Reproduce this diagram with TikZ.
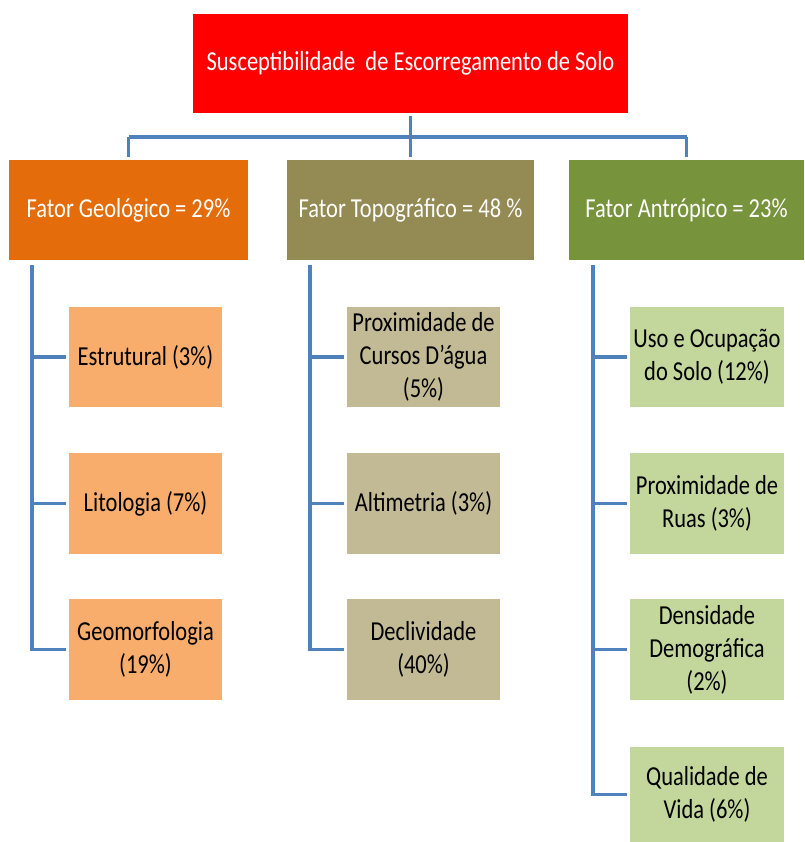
\documentclass[tikz,border=0pt]{standalone}
\usepackage{fontspec}
\setmainfont{Carlito}[FakeStretch=0.82]
\usetikzlibrary{positioning}

\definecolor{topred}{HTML}{FF0000}
\definecolor{geocol}{HTML}{E46C0A}
\definecolor{topocol}{HTML}{948A54}
\definecolor{antrcol}{HTML}{77933C}
\definecolor{geolight}{HTML}{F9AD6D}
\definecolor{topolight}{HTML}{C2BA94}
\definecolor{antrlight}{HTML}{C3D69B}
\definecolor{linkcol}{HTML}{4F81BD}

\tikzset{
  box/.style={inner sep=0pt, align=center, font=\fontsize{19.5}{23.5}\selectfont},
  topbox/.style={box, fill=topred, text=white, minimum width=10.875cm, minimum height=2.475cm},
  fator/.style={box, text=white, minimum height=2.5cm},
  item/.style={box, text=black, minimum width=3.825cm, minimum height=2.5cm},
  conn/.style={draw=linkcol, line width=2.5pt}
}

\begin{document}
\begin{tikzpicture}[x=0.025cm,y=-0.025cm]
  \useasboundingbox (0,0) rectangle (804,842);

  %TOPO
  \node[topbox] (top) at (410.5,63.5) {Susceptibilidade~ de Escorregamento de Solo};

  %FATORES
  \node[fator, fill=geocol, minimum width=5.975cm] (geo) at (128.5,210) {Fator Geológico = 29\%};
  \node[fator, fill=topocol, minimum width=6.175cm] (topo) at (410.5,210) {Fator Topográfico = 48 \%};
  \node[fator, fill=antrcol, minimum width=5.875cm] (antr) at (686.5,210) {Fator Antrópico = 23\%};

  %GEOLOGICO
  \node[item, fill=geolight] (g1) at (145.5,357) {Estrutural (3\%)};
  \node[item, fill=geolight] (g2) at (145.5,503.5) {Litologia (7\%)};
  \node[item, fill=geolight] (g3) at (145.5,649.5) {Geomorfologia\\(19\%)};

  %TOPOGRAFICO
  \node[item, fill=topolight] (t1) at (423.5,357) {Proximidade de\\Cursos D’água\\(5\%)};
  \node[item, fill=topolight] (t2) at (423.5,503.5) {Altimetria (3\%)};
  \node[item, fill=topolight] (t3) at (423.5,649.5) {Declividade\\(40\%)};

  %ANTROPICO
  \node[item, fill=antrlight] (a1) at (707,357) {Uso e Ocupação\\do Solo (12\%)};
  \node[item, fill=antrlight] (a2) at (707,503.5) {Proximidade de\\Ruas (3\%)};
  \node[item, fill=antrlight] (a3) at (707,649.5) {Densidade\\Demográfica\\(2\%)};
  \node[item, fill=antrlight, minimum height=2.375cm] (a4) at (707,794.5) {Qualidade de\\Vida (6\%)};

  %LIGACOES
  \coordinate (bus) at (0,137);
  \draw[conn, shorten <=2pt] (top.south) -- (top.south |- bus);
  \draw[conn] (geo.north |- bus) -- (antr.north |- bus);
  \draw[conn, shorten >=2pt] (geo.north |- bus) -- (geo.north);
  \draw[conn, shorten >=2pt] (topo.north |- bus) -- (topo.north);
  \draw[conn, shorten >=2pt] (antr.north |- bus) -- (antr.north);

  \coordinate (gt) at (32,265);
  \coordinate (tt) at (310,265);
  \coordinate (at) at (593,265);
  \draw[conn] (gt) -- (gt |- g3.west) -- ([xshift=-2pt]g3.west);
  \draw[conn] (gt |- g1.west) -- ([xshift=-2pt]g1.west);
  \draw[conn] (gt |- g2.west) -- ([xshift=-2pt]g2.west);
  \draw[conn] (tt) -- (tt |- t3.west) -- ([xshift=-2pt]t3.west);
  \draw[conn] (tt |- t1.west) -- ([xshift=-2pt]t1.west);
  \draw[conn] (tt |- t2.west) -- ([xshift=-2pt]t2.west);
  \draw[conn] (at) -- (at |- a4.west) -- ([xshift=-2pt]a4.west);
  \draw[conn] (at |- a1.west) -- ([xshift=-2pt]a1.west);
  \draw[conn] (at |- a2.west) -- ([xshift=-2pt]a2.west);
  \draw[conn] (at |- a3.west) -- ([xshift=-2pt]a3.west);
\end{tikzpicture}
\end{document}
